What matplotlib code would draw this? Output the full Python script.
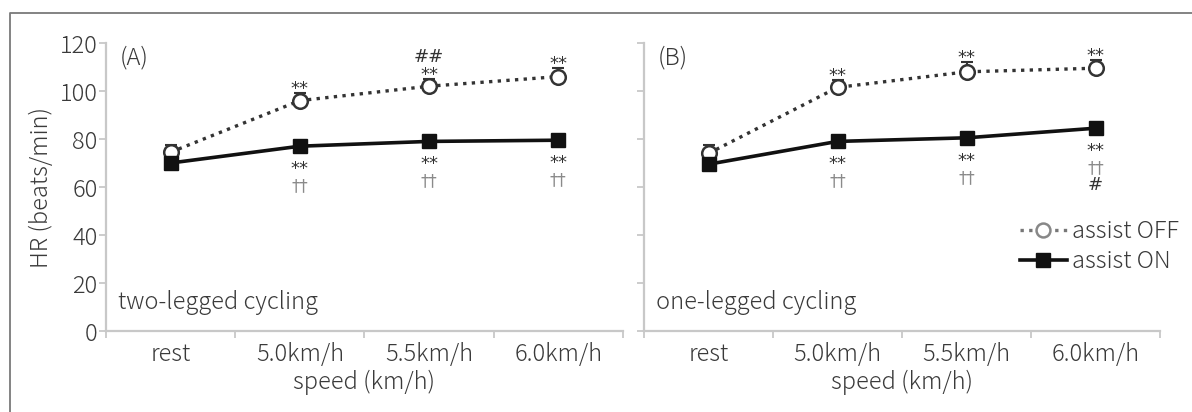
import matplotlib.pyplot as plt
from matplotlib.lines import Line2D

plt.rcParams['font.family'] = ['Noto Sans CJK JP', 'DejaVu Sans']
plt.rcParams['font.weight'] = 'light'
plt.rcParams['axes.labelweight'] = 'light'

speeds = ["rest", "5.0km/h", "5.5km/h", "6.0km/h"]

# two-legged cycling (A)
a_off = [74.5, 96, 102, 106]
a_off_err = [3, 3, 3, 3.5]
a_on = [70, 77, 79, 79.5]
a_on_err = [2, 2.5, 2.5, 2.5]

# one-legged cycling (B)
b_off = [74, 101.5, 108, 109.5]
b_off_err = [3.5, 3, 4, 3.5]
b_on = [69.5, 79, 80.5, 84.5]
b_on_err = [2, 2.5, 2.5, 2.5]

# significance marks, listed from the marker outwards
a_above = [[], ["**"], ["**", "##"], ["**"]]
a_below = [[], ["**", "††"], ["**", "††"], ["**", "††"]]
b_above = [[], ["**"], ["**"], ["**"]]
b_below = [[], ["**", "††"], ["**", "††"], ["**", "††", "#"]]

axis_gray = "#c8c8c8"
text_col = "#3a3a3a"
fs = 17

fig = plt.figure(figsize=(11.92, 4.12), dpi=100)
ax_a = fig.add_axes([0.0889, 0.1966, 0.4337, 0.699])
ax_b = fig.add_axes([0.5403, 0.1966, 0.4329, 0.699])

# frame around the figure (only top and left edges are inside the canvas)
fig.add_artist(Line2D([0.0084, 0.0084, 1.0], [0.0, 0.968, 0.968],
                      transform=fig.transFigure, color="#7a7a7a", lw=1.3))


def mark_style(s):
    if s == "††":
        return dict(color="#8a8a8a", fontsize=12)
    return dict(color="#333333", fontsize=13)


def draw_panel(ax, off, off_err, on, on_err, above, below, tag, title):
    x = list(range(len(speeds)))
    ax.errorbar(x, off, yerr=[[0] * len(off), off_err], fmt="none",
                ecolor="#333333", elinewidth=1.5, capsize=4, capthick=1.5, zorder=2)
    ax.errorbar(x, on, yerr=[on_err, [0] * len(on)], fmt="none",
                ecolor="#222222", elinewidth=1.5, capsize=4, capthick=1.5, zorder=2)
    ax.plot(x, off, linestyle=(0, (1, 1.6)), color="#333333", lw=2.4,
            marker="o", markersize=10.5, markerfacecolor="white",
            markeredgecolor="#333333", markeredgewidth=1.8, zorder=3)
    ax.plot(x, on, linestyle="-", color="#111111", lw=2.6,
            marker="s", markersize=10.5, markerfacecolor="#111111",
            markeredgecolor="#111111", zorder=4)

    for i in x:
        for k, s in enumerate(above[i]):
            ax.annotate(s, (i, off[i] + off_err[i]), xytext=(0, -5 + 18 * k),
                        textcoords="offset pixels", ha="center", va="bottom",
                        family="DejaVu Sans", fontweight="normal", **mark_style(s))
        for k, s in enumerate(below[i]):
            ax.annotate(s, (i, on[i]), xytext=(0, -14 - 17 * k),
                        textcoords="offset pixels", ha="center", va="top",
                        family="DejaVu Sans", fontweight="normal", **mark_style(s))

    ax.set_xlim(-0.5, len(speeds) - 0.5)
    ax.set_ylim(0, 120)
    ax.set_yticks(range(0, 121, 20))
    ax.set_xticks([i - 0.5 for i in range(len(speeds) + 1)])
    ax.set_xticklabels([])
    ax.set_xticks(x, minor=True)
    ax.set_xticklabels(speeds, minor=True)
    ax.tick_params(axis="x", which="minor", length=0, pad=8,
                   labelsize=fs, labelcolor=text_col)
    ax.tick_params(axis="x", which="major", length=5, width=1.3, color=axis_gray)
    ax.tick_params(axis="y", length=5, width=1.3, color=axis_gray,
                   labelsize=fs, labelcolor=text_col, pad=1)
    for side in ("top", "right"):
        ax.spines[side].set_visible(False)
    for side in ("left", "bottom"):
        ax.spines[side].set_color(axis_gray)
        ax.spines[side].set_linewidth(1.6)
    ax.set_xlabel("speed (km/h)", fontsize=fs, color=text_col, labelpad=2)
    ax.text(0.027, 0.99, tag, transform=ax.transAxes, fontsize=fs,
            color=text_col, va="top", ha="left")
    ax.text(0.023, 0.1, title, transform=ax.transAxes, fontsize=fs,
            color=text_col, va="center", ha="left")


draw_panel(ax_a, a_off, a_off_err, a_on, a_on_err, a_above, a_below,
           "(A)", "two-legged cycling")
draw_panel(ax_b, b_off, b_off_err, b_on, b_on_err, b_above, b_below,
           "(B)", "one-legged cycling")

ax_a.set_ylabel("HR (beats/min)", fontsize=fs, color=text_col, labelpad=4)
ax_b.set_yticklabels([])

handles = [
    Line2D([], [], linestyle=(0, (1, 1.6)), color="#777777", lw=2.4, marker="o",
           markersize=10, markerfacecolor="white", markeredgecolor="#888888",
           markeredgewidth=1.8),
    Line2D([], [], linestyle="-", color="#111111", lw=2.6, marker="s",
           markersize=10, markerfacecolor="#111111"),
]
ax_b.legend(handles, ["assist OFF", "assist ON"], loc="upper left",
            bbox_to_anchor=(0.71, 0.42), frameon=False, fontsize=fs,
            handlelength=2.0, handletextpad=0.2, labelspacing=0.2,
            borderaxespad=0, labelcolor=text_col)

fig.savefig("out.png", dpi=100)
